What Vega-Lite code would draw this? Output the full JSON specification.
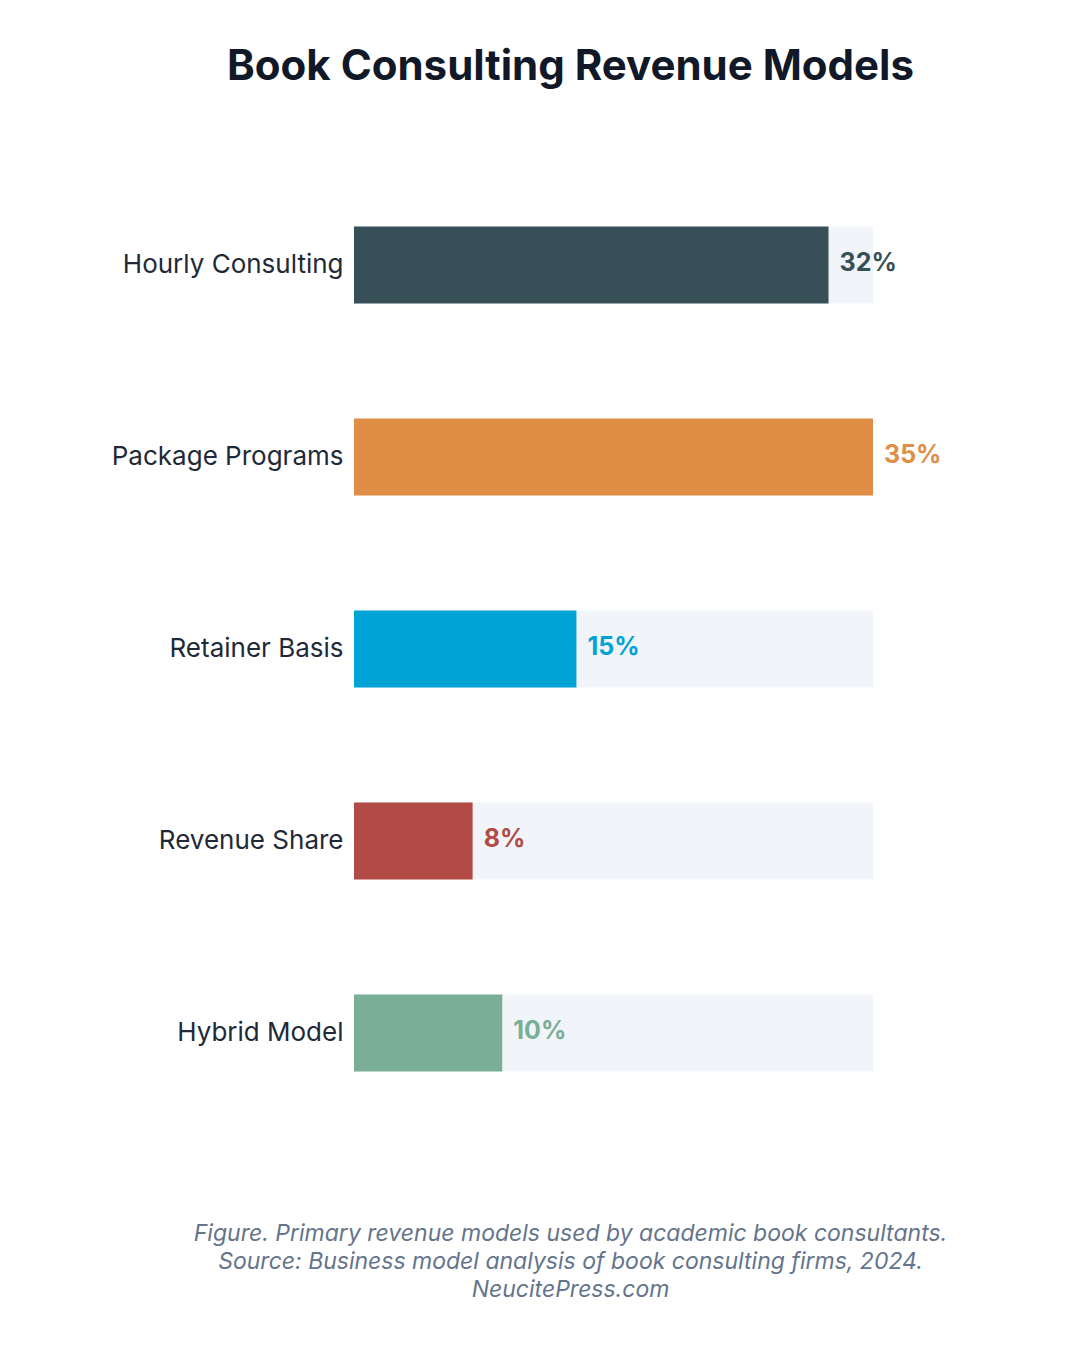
{
  "$schema": "https://vega.github.io/schema/vega-lite/v6.json",
  "width": 519,
  "height": 960,
  "autosize": {"type": "none"},
  "padding": {"left": 354, "top": 169, "right": 207, "bottom": 221},
  "background": "white",
  "title": {
    "text": "Book Consulting Revenue Models",
    "anchor": "middle",
    "frame": "group",
    "dx": -43,
    "offset": 80,
    "font": "Inter",
    "fontSize": 42,
    "fontWeight": "bold",
    "color": "#111827"
  },
  "data": {
    "values": [
      {"model": "Hourly Consulting", "share": 32, "label": "32%"},
      {"model": "Package Programs", "share": 35, "label": "35%"},
      {"model": "Retainer Basis", "share": 15, "label": "15%"},
      {"model": "Revenue Share", "share": 8, "label": "8%"},
      {"model": "Hybrid Model", "share": 10, "label": "10%"}
    ]
  },
  "encoding": {
    "y": {
      "field": "model",
      "type": "nominal",
      "sort": null,
      "scale": {"paddingInner": 0.6, "paddingOuter": 0.3},
      "axis": {
        "title": null,
        "domain": false,
        "ticks": false,
        "labelPadding": 11,
        "labelLimit": 0,
        "labelFont": "Inter",
        "labelFontSize": 26,
        "labelColor": "#1f2937"
      }
    }
  },
  "layer": [
    {
      "mark": {"type": "bar", "color": "#f1f5f9"},
      "encoding": {
        "x": {
          "datum": 35,
          "type": "quantitative",
          "scale": {"domain": [0, 35], "nice": false, "zero": true},
          "axis": {
            "grid": false,
            "domain": false,
            "ticks": false,
            "labels": false,
            "title": [
              "Figure. Primary revenue models used by academic book consultants.",
              "Source: Business model analysis of book consulting firms, 2024.",
              "NeucitePress.com"
            ],
            "titleFont": "Inter",
            "titleFontSize": 23,
            "titleFontStyle": "italic",
            "titleFontWeight": "normal",
            "titleColor": "#64748b",
            "titleLineHeight": 28,
            "titlePadding": 93,
            "titleX": 216
          }
        }
      }
    },
    {
      "mark": {"type": "bar"},
      "encoding": {
        "x": {"field": "share", "type": "quantitative"},
        "color": {
          "field": "model",
          "type": "nominal",
          "legend": null,
          "scale": {
            "domain": ["Hourly Consulting", "Package Programs", "Retainer Basis", "Revenue Share", "Hybrid Model"],
            "range": ["#374f57", "#e08e45", "#00a3d6", "#b24a45", "#7aae96"]
          }
        }
      }
    },
    {
      "mark": {
        "type": "text",
        "align": "left",
        "baseline": "middle",
        "dx": 11,
        "dy": -2,
        "font": "Inter",
        "fontSize": 25,
        "fontWeight": "bold"
      },
      "encoding": {
        "x": {"field": "share", "type": "quantitative"},
        "text": {"field": "label", "type": "nominal"},
        "color": {"field": "model", "type": "nominal", "legend": null}
      }
    }
  ],
  "config": {"view": {"stroke": null}}
}
